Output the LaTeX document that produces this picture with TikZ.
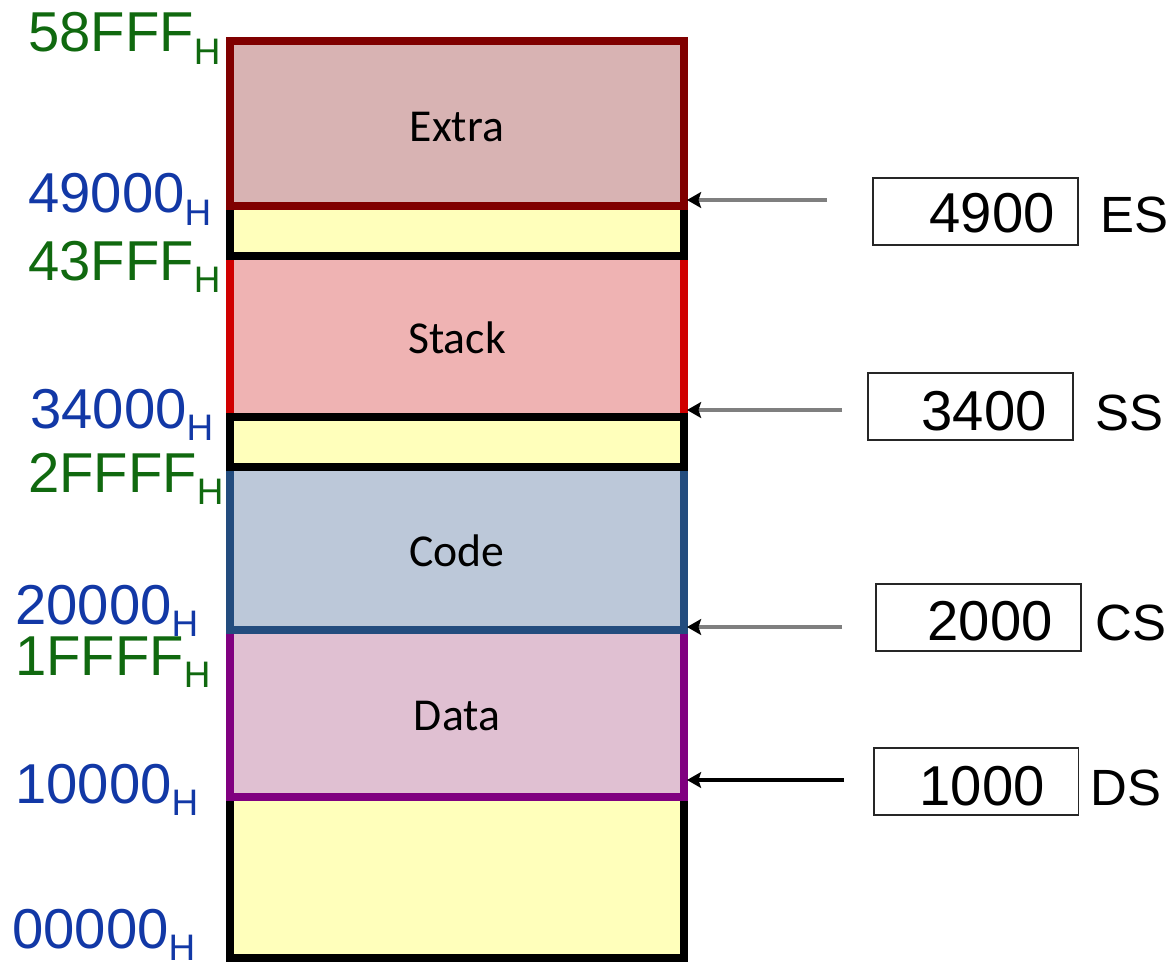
\documentclass[tikz,border=0pt]{standalone}
\usepackage{fontspec}
\setmainfont{Liberation Sans}
\newfontfamily\segfont{Carlito}
\usetikzlibrary{arrows.meta}
\definecolor{yel}{HTML}{FFFFBB}
\definecolor{extf}{HTML}{D8B3B3}
\definecolor{extb}{HTML}{800000}
\definecolor{stkf}{HTML}{EFB3B3}
\definecolor{stkb}{HTML}{D00000}
\definecolor{codf}{HTML}{BCC8D9}
\definecolor{codb}{HTML}{234C7E}
\definecolor{datf}{HTML}{E0C0D2}
\definecolor{datb}{HTML}{800080}
\definecolor{grn}{HTML}{10690F}
\definecolor{blu}{HTML}{1238A6}
\definecolor{arrg}{HTML}{7F7F7F}
\newcommand{\subH}{\raisebox{-7pt}{\fontsize{21pt}{21pt}\selectfont H}}
\begin{document}
\begin{tikzpicture}[x=0.02cm,y=-0.02cm,
  seg/.style={line width=4.5pt},
  segl/.style={font=\segfont\fontsize{26pt}{28pt}\selectfont, inner sep=0pt},
  addr/.style={font=\fontsize{32pt}{34pt}\selectfont, inner sep=0pt, anchor=base west},
  regbox/.style={draw=black!85, line width=1.1pt, minimum width=4.1cm, minimum height=1.34cm, inner sep=0pt},
  num/.style={font=\fontsize{32pt}{34pt}\selectfont, inner sep=0pt, anchor=base east},
  regname/.style={font=\fontsize{29pt}{31pt}\selectfont, inner sep=0pt, anchor=base west},
  ptr/.style={line width=1.8pt, -{Stealth[black, length=8pt, width=9pt, inset=1.5pt]}}]
\useasboundingbox (0,0) rectangle (1172,966);
% memory column
\draw[seg, draw=black, fill=yel] (230,797) rectangle (684,958);
\draw[seg, draw=datb, fill=datf] (230,630) rectangle (684,797);
\draw[seg, draw=codb, fill=codf] (230,467) rectangle (684,630);
\draw[seg, draw=stkb, fill=stkf] (230,256) rectangle (684,417);
\draw[seg, draw=black, fill=yel] (230,206) rectangle (684,256);
\draw[seg, draw=black, fill=yel] (230,417) rectangle (684,467);
\draw[seg, draw=extb, fill=extf] (230,41) rectangle (684,206);
% segment names
\node[segl] (lextra) at (457,127) {Extra};
\node[segl] (lstack) at (457,338) {Stack};
\node[segl] (lcode) at (457,551) {Code};
\node[segl] (ldata) at (457,716) {Data};
% addresses
\node[addr, text=grn] (a58) at (28,52) {58FFF\subH};
\node[addr, text=blu] (a49) at (28,213) {49000\subH};
\node[addr, text=grn] (a43) at (28,280) {43FFF\subH};
\node[addr, text=blu] (a34) at (30,428) {34000\subH};
\node[addr, text=grn] (a2f) at (28,492) {2FFFF\subH};
\node[addr, text=blu] (a20) at (15,624) {20000\subH};
\node[addr, text=grn] (a1f) at (15,675) {1FFFF\subH};
\node[addr, text=blu] (a10) at (15,803) {10000\subH};
\node[addr, text=blu] (a00) at (12,948) {00000\subH};
% registers
\node[regbox] (esb) at (975.5,211.5) {};
\node[num] (esv) at (1055,233) {4900};
\node[regname] (esn) at (1100,233) {ES};
\node[regbox] (ssb) at (970.5,406.5) {};
\node[num] (ssv) at (1047,430) {3400};
\node[regname] (ssn) at (1095,430) {SS};
\node[regbox] (csb) at (978.5,617.5) {};
\node[num] (csv) at (1053,640) {2000};
\node[regname] (csn) at (1095,640) {CS};
\node[regbox] (dsb) at (976,781.5) {};
\node[num] (dsv) at (1045,805) {1000};
\node[regname] (dsn) at (1090,805) {DS};
% pointers
\coordinate (esS) at (827,200); \coordinate (esT) at (687,200);
\coordinate (ssS) at (842,410); \coordinate (ssT) at (687,410);
\coordinate (csS) at (842,627); \coordinate (csT) at (687,627);
\coordinate (dsS) at (844,780); \coordinate (dsT) at (687,780);
\draw[ptr, draw=arrg] (esS) -- (esT);
\draw[ptr, draw=arrg] (ssS) -- (ssT);
\draw[ptr, draw=arrg] (csS) -- (csT);
\draw[ptr, draw=black] (dsS) -- (dsT);
\end{tikzpicture}
\end{document}
